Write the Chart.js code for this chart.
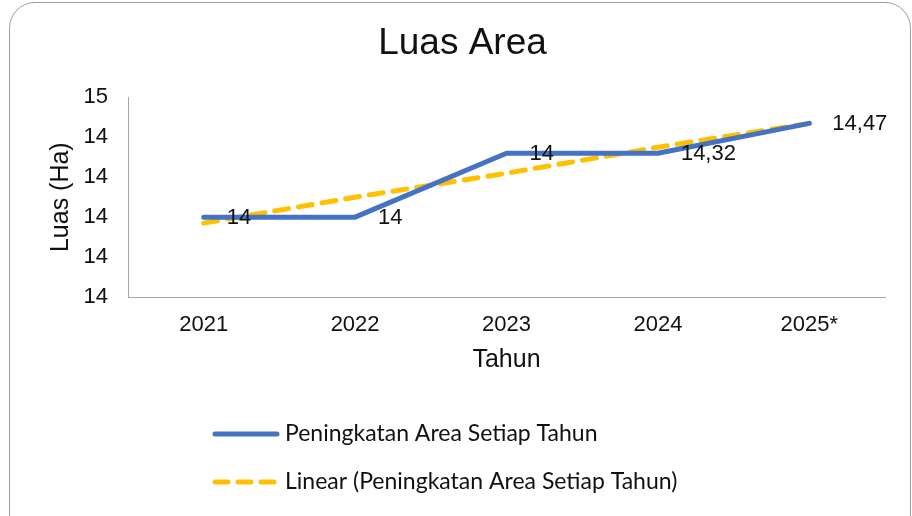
<!DOCTYPE html>
<html>
<head>
<meta charset="utf-8">
<script src="https://cdn.jsdelivr.net/npm/chart.js@4"></script>
<style>
  body { margin: 0; overflow: hidden; background: #fff; }
  #frame { position: absolute; left: 9px; top: 2px; width: 902px; height: 580px;
           border: 1px solid #9e9e9e; border-radius: 26px; box-sizing: border-box; }
  #wrap { position: absolute; left: 0; top: 0; width: 912px; height: 516px; }
</style>
</head>
<body>
<div id="frame"></div>
<div id="wrap"><canvas id="myChart" width="912" height="516"></canvas></div>
<script>
// chart values
let years = ["2021", "2022", "2023", "2024", "2025*"];
let luasArea = [14.0, 14.0, 14.32, 14.32, 14.47];
let luasLabels = ["14", "14", "14", "14,32", "14,47"];
let trendLinear = [13.97, 14.10, 14.22, 14.35, 14.47];
let yMin = 13.6;
let yMax = 14.6;
let yStep = 0.2;

const blue = "#4472C4";
const gold = "#FFC000";
const arial = "'Liberation Sans', Arial, sans-serif";

// value labels to the right of each point
const pointLabels = {
  id: "pointLabels",
  afterDatasetsDraw(chart) {
    let ctx = chart.ctx;
    let meta = chart.getDatasetMeta(0);
    ctx.save();
    ctx.font = "22px " + arial;
    ctx.fillStyle = "#111";
    ctx.textAlign = "left";
    ctx.textBaseline = "middle";
    meta.data.forEach(function (pt, i) {
      ctx.fillText(luasLabels[i], pt.x + 23, pt.y + 1);
    });
    ctx.restore();
  },
};

// legend stacked in two rows under the axis
const stackedLegend = {
  id: "stackedLegend",
  afterDraw(chart) {
    let ctx = chart.ctx;
    let rows = [434, 482];
    ctx.save();
    chart.data.datasets.forEach(function (ds, i) {
      let y = rows[i];
      ctx.beginPath();
      ctx.lineWidth = 5;
      ctx.lineCap = "round";
      ctx.strokeStyle = ds.borderColor;
      ctx.setLineDash(ds.borderDash ? [13, 10] : []);
      ctx.moveTo(215, y);
      ctx.lineTo(277, y);
      ctx.stroke();
      ctx.setLineDash([]);
      ctx.font = "23px Lato, sans-serif";
      ctx.fillStyle = "#111";
      ctx.textBaseline = "middle";
      ctx.fillText(ds.label, 285, y);
    });
    ctx.restore();
  },
};

const data = {
  labels: years,
  datasets: [
    {
      label: "Peningkatan Area Setiap Tahun",
      data: luasArea,
      borderColor: blue,
      backgroundColor: blue,
      borderWidth: 5,
      borderCapStyle: "round",
      borderJoinStyle: "round",
      pointRadius: 0,
      tension: 0,
    },
    {
      label: "Linear (Peningkatan Area Setiap Tahun)",
      data: trendLinear,
      borderColor: gold,
      backgroundColor: gold,
      borderWidth: 5,
      borderDash: [14, 10],
      borderCapStyle: "round",
      pointRadius: 0,
      tension: 0,
    },
  ],
};

const config = {
  type: "line",
  data: data,
  plugins: [pointLabels, stackedLegend],
  options: {
    responsive: false,
    animation: { duration: 0 },
    layout: { padding: { left: 40, right: 27, top: 0, bottom: 139 } },
    plugins: {
      legend: { display: false },
      tooltip: { enabled: false },
      title: {
        display: true,
        text: "Luas Area",
        color: "#111",
        font: { family: arial, size: 37, weight: "normal" },
        padding: { top: 22, bottom: 31 },
      },
    },
    scales: {
      x: {
        offset: true,
        grid: { display: false, drawTicks: false },
        border: { display: true, color: "#a6a6a6", width: 1 },
        ticks: { color: "#111", padding: 15, font: { family: arial, size: 22 }, maxRotation: 0 },
        title: {
          display: true,
          text: "Tahun",
          color: "#111",
          font: { family: arial, size: 25 },
          padding: { top: 0, bottom: 2 },
        },
        afterFit: function (scale) {
          scale.height = 80;
        },
      },
      y: {
        min: yMin,
        max: yMax,
        grid: { display: false, drawTicks: false },
        border: { display: true, color: "#a6a6a6", width: 1 },
        ticks: {
          stepSize: yStep,
          color: "#111",
          padding: 20,
          font: { family: arial, size: 22 },
          callback: function (v) {
            return Math.round(v);
          },
        },
        title: {
          display: true,
          text: "Luas (Ha)",
          color: "#111",
          font: { family: arial, size: 25 },
          padding: { top: 6, bottom: 0 },
        },
        afterFit: function (scale) {
          scale.width = 88;
        },
      },
    },
  },
};

let myChart = new Chart(document.getElementById("myChart"), config);
</script>
</body>
</html>
